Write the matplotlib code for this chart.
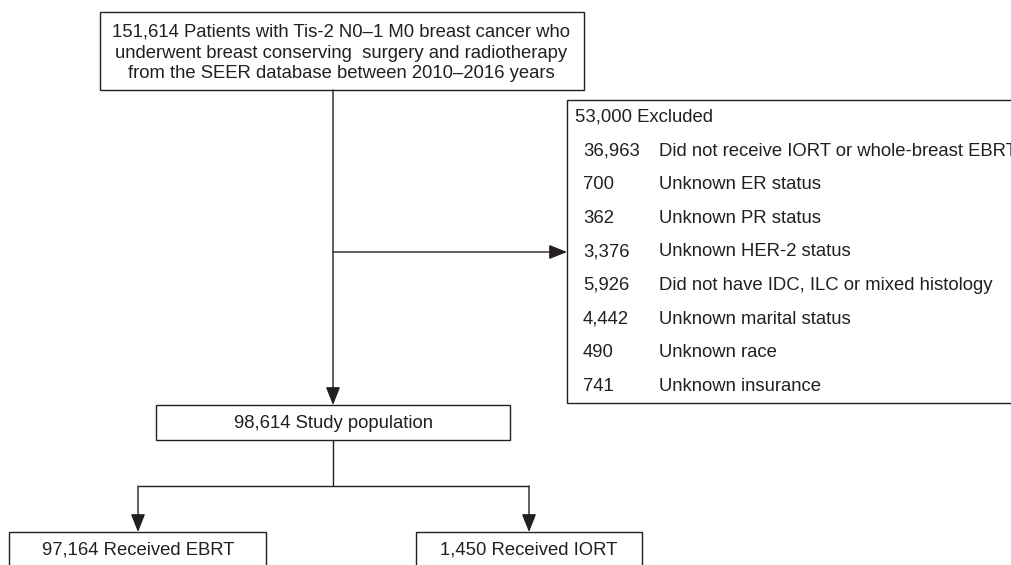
import matplotlib.pyplot as plt
from matplotlib.patches import Rectangle

plt.rcParams['font.family'] = ['Liberation Sans', 'DejaVu Sans']

# flowchart text
top_lines = ['151,614 Patients with Tis-2 N0\u20131 M0 breast cancer who',
             'underwent breast conserving  surgery and radiotherapy',
             'from the SEER database between 2010\u20132016 years']
excluded_title = '53,000 Excluded'
excluded_counts = ['36,963', '700', '362', '3,376', '5,926', '4,442', '490', '741']
excluded_reasons = ['Did not receive IORT or whole-breast EBRT',
                    'Unknown ER status',
                    'Unknown PR status',
                    'Unknown HER-2 status',
                    'Did not have IDC, ILC or mixed histology',
                    'Unknown marital status',
                    'Unknown race',
                    'Unknown insurance']
study_text = '98,614 Study population'
arm_texts = ['97,164 Received EBRT', '1,450 Received IORT']

ink = '#231f20'
fs = 13.3

fig = plt.figure(figsize=(10.11, 5.65), dpi=100)
ax = fig.add_axes([0, 0, 1, 1])
ax.set_xlim(0, 1011)
ax.set_ylim(565, 0)
ax.axis('off')


def box(x0, y0, x1, y1):
    ax.add_patch(Rectangle((x0, y0), x1 - x0, y1 - y0, fill=False,
                           edgecolor=ink, linewidth=1.0, clip_on=True))


def line(xs, ys):
    ax.plot(xs, ys, color=ink, linewidth=1.0, solid_capstyle='butt')


def arrow(x0, y0, x1, y1):
    ax.annotate('', xy=(x1, y1), xytext=(x0, y0),
                arrowprops=dict(arrowstyle='-|>,head_length=0.55,head_width=0.22',
                                color=ink, lw=1.0,
                                mutation_scale=20, shrinkA=0, shrinkB=0))


# top box
box(100, 12, 584, 90)
for i, t in enumerate(top_lines):
    ax.text(341, 32 + i * 21, t, ha='center', va='center', fontsize=fs, color=ink)

# main flow
arrow(333, 90, 333, 405)
arrow(333, 252, 567, 252)

# excluded box (runs off the right edge, as in the source figure)
box(567, 100, 1030, 403)
ax.text(575, 117, excluded_title, ha='left', va='center', fontsize=fs, color=ink)
for i, (n, r) in enumerate(zip(excluded_counts, excluded_reasons)):
    y = 151 + i * 33.6
    ax.text(583, y, n, ha='left', va='center', fontsize=fs, color=ink)
    ax.text(659, y, r, ha='left', va='center', fontsize=fs, color=ink)

# study population
box(156, 405, 510, 440)
ax.text(333, 423, study_text, ha='center', va='center', fontsize=fs, color=ink)
line([333, 333], [440, 486])
line([138, 529], [486, 486])
arrow(138, 486, 138, 532)
arrow(529, 486, 529, 532)

# two arms (cut at the bottom edge)
box(9, 532, 266, 580)
box(416, 532, 642, 580)
ax.text(138, 550, arm_texts[0], ha='center', va='center', fontsize=fs, color=ink)
ax.text(529, 550, arm_texts[1], ha='center', va='center', fontsize=fs, color=ink)

fig.savefig('out.png', dpi=100)
